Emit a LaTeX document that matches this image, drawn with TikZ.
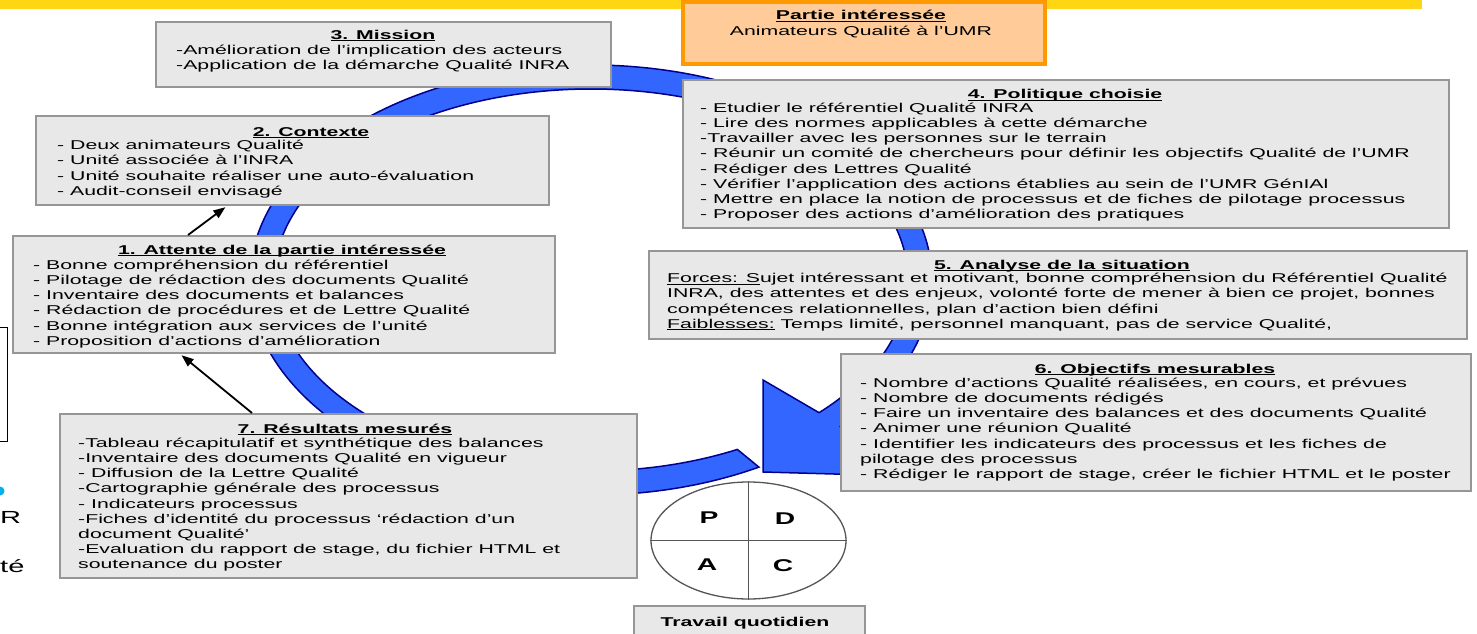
\documentclass[tikz,border=0pt]{standalone}
\usepackage{fontspec}
\setmainfont{Liberation Sans}[FakeStretch=1.66]
\usetikzlibrary{calc,arrows.meta,shapes.geometric}
\definecolor{boxfill}{RGB}{232,232,232}
\definecolor{boxline}{RGB}{150,150,150}
\definecolor{ringblue}{RGB}{51,102,255}
\definecolor{ringdark}{RGB}{0,0,140}
\definecolor{orfill}{RGB}{255,204,153}
\definecolor{orline}{RGB}{255,153,0}
\definecolor{bandyellow}{RGB}{255,214,20}
\definecolor{bulletc}{RGB}{0,176,240}
\definecolor{pdcaline}{RGB}{85,85,85}
\newsavebox\myulbox
\newcommand\myul[1]{\leavevmode\sbox\myulbox{#1}\rlap{\rule[-1.7pt]{\wd\myulbox}{0.9pt}}\usebox\myulbox}
\begin{document}
\begin{tikzpicture}[x=1pt,y=-1pt,
  panel/.style={draw=boxline, fill=boxfill, line width=2pt, inner sep=0pt, anchor=north west},
  txt/.style={anchor=north west, align=left, inner sep=0pt, font=\fontsize{12.8}{15.2}\selectfont},
  ttl/.style={anchor=base, inner sep=0pt, font=\fontsize{12.8}{15.2}\selectfont\bfseries},
  plain/.style={anchor=base, inner sep=0pt, font=\fontsize{12.8}{15.2}\selectfont},
  letter/.style={inner sep=0pt, font=\fontsize{17}{17}\selectfont\bfseries},
  frag/.style={inner sep=0pt, anchor=base west, font=\fontsize{17.5}{18}\selectfont},
  ring/.style={fill=ringblue, draw=ringdark, line width=1.5pt, line join=miter},
  conn/.style={line width=1.8pt, -{Triangle[length=12pt,width=9pt]}, shorten >=2pt}
]
\useasboundingbox (0,0) rectangle (1477,634);
\fill[white] (0,0) rectangle (1477,634);

% yellow band at the top
\fill[fill=bandyellow] (0,0) rectangle (1422,9);

% big circular arrow
\coordinate (rc) at (591,280);
\coordinate (ow) at (905,476);
\coordinate (tip) at (763,472);
\coordinate (iw) at (763,380);
\path[ring] ($(rc)+(60.5:341 and 215)$)
  arc[start angle=60.5, end angle=403, x radius=341, y radius=215]
  -- (ow) -- (tip) -- (iw)
  -- ($(rc)+(404:317 and 191)$)
  arc[start angle=404, end angle=62.5, x radius=317, y radius=191]
  -- cycle;

% left fragments
\node[draw, line width=1pt, minimum width=20pt, minimum height=114pt, inner sep=0pt, anchor=north east] (lf) at (7.5,327) {};
\node[circle, fill=bulletc, minimum size=9pt, inner sep=0pt] (bul) at (0,491) {};
\node[frag] (fr) at (0,523) {R};
\node[frag] (ft) at (0,572) {té};

% Partie interessee
\node[draw=orline, fill=orfill, line width=4pt, minimum width=362pt, minimum height=62pt, inner sep=0pt, anchor=north west] (pi) at (681,0) {};
\node[ttl] (pih) at (861,20) {\myul{Partie intéressée}};
\node[plain] (pit) at (861,36) {Animateurs Qualité à l’UMR};

% 3. Mission
\node[panel, minimum width=455pt, minimum height=65pt] (b3) at (155,21) {};
\node[ttl] (b3h) at (383,39.5) {\myul{3. Mission}};
\node[txt] (b3t) at (176,43.6) {\strut-Amélioration de l’implication des acteurs\\
-Application de la démarche Qualité INRA};

% 4. Politique choisie
\node[panel, minimum width=766pt, minimum height=148pt] (b4) at (682,79) {};
\node[ttl] (b4h) at (1065,99) {\myul{4. Politique choisie}};
\node[txt] (b4t) at (700,101.4) {\strut- Etudier le référentiel Qualité INRA\\
- Lire des normes applicables à cette démarche\\
-Travailler avec les personnes sur le terrain\\
- Réunir un comité de chercheurs pour définir les objectifs Qualité de l’UMR\\
- Rédiger des Lettres Qualité\\
- Vérifier l’application des actions établies au sein de l’UMR GénIAl\\
- Mettre en place la notion de processus et de fiches de pilotage processus\\
- Proposer des actions d’amélioration des pratiques};

% 2. Contexte
\node[panel, minimum width=513pt, minimum height=89pt] (b2) at (35,115) {};
\node[ttl] (b2h) at (311,136) {\myul{2. Contexte}};
\node[txt] (b2t) at (57,138.9) {\strut- Deux animateurs Qualité\\
- Unité associée à l’INRA\\
- Unité souhaite réaliser une auto-évaluation\\
- Audit-conseil envisagé};

% 1. Attente
\node[panel, minimum width=542pt, minimum height=117pt] (b1) at (12,235) {};
\node[ttl] (b1h) at (282,254) {\myul{1. Attente de la partie intéressée}};
\node[txt] (b1t) at (33,258.4) {\strut- Bonne compréhension du référentiel\\
- Pilotage de rédaction des documents Qualité\\
- Inventaire des documents et balances\\
- Rédaction de procédures et de Lettre Qualité\\
- Bonne intégration aux services de l’unité\\
- Proposition d’actions d’amélioration};

% 5. Analyse
\node[panel, minimum width=818pt, minimum height=88pt] (b5) at (648,250) {};
\node[ttl] (b5h) at (1062,269) {\myul{5. Analyse de la situation}};
\node[txt] (b5t) at (667,271.9) {\strut\myul{Forces: S}ujet intéressant et motivant, bonne compréhension du Référentiel Qualité\\
INRA, des attentes et des enjeux, volonté forte de mener à bien ce projet, bonnes\\
compétences relationnelles, plan d’action bien défini\\
\myul{Faiblesses:} Temps limité, personnel manquant, pas de service Qualité,};

% 6. Objectifs
\node[panel, minimum width=630pt, minimum height=137pt] (b6) at (840,353) {};
\node[ttl] (b6h) at (1155,373) {\myul{6. Objectifs mesurables}};
\node[txt] (b6t) at (860,376.4) {\strut- Nombre d’actions Qualité réalisées, en cours, et prévues\\
- Nombre de documents rédigés\\
- Faire un inventaire des balances et des documents Qualité\\
- Animer une réunion Qualité\\
- Identifier les indicateurs des processus et les fiches de\\
pilotage des processus\\
- Rédiger le rapport de stage, créer le fichier HTML et le poster};

% 7. Resultats
\node[panel, minimum width=577pt, minimum height=164pt] (b7) at (59,413) {};
\node[ttl] (b7h) at (345,433) {\myul{7. Résultats mesurés}};
\node[txt] (b7t) at (78,436.4) {\strut-Tableau récapitulatif et synthétique des balances\\
-Inventaire des documents Qualité en vigueur\\
- Diffusion de la Lettre Qualité\\
-Cartographie générale des processus\\
- Indicateurs processus\\
-Fiches d’identité du processus ‘rédaction d’un\\
document Qualité’\\
-Evaluation du rapport de stage, du fichier HTML et\\
soutenance du poster};

% black connectors
\draw[conn] ([xshift=176pt]b1.north west) -- ([xshift=192pt]b2.south west);
\draw[conn] ([xshift=193pt]b7.north west) -- ([xshift=168pt]b1.south west);

% PDCA
\node[ellipse, draw=pdcaline, fill=white, line width=1.3pt, minimum width=195pt, minimum height=117pt, inner sep=0pt] (pdca) at (748.5,540.5) {};
\draw[pdcaline, line width=1.3pt] (pdca.north) -- (pdca.south);
\draw[pdcaline, line width=1.3pt] (pdca.west) -- (pdca.east);
\node[letter] (lp) at (709,518) {P};
\node[letter] (ld) at (785,519) {D};
\node[letter] (la) at (707,565) {A};
\node[letter] (lc) at (783,566) {C};

% Travail quotidien
\node[panel, minimum width=231pt, minimum height=40pt] (tq) at (633,605) {};
\node[ttl] (tqt) at (745,626) {Travail quotidien};
\end{tikzpicture}
\end{document}
